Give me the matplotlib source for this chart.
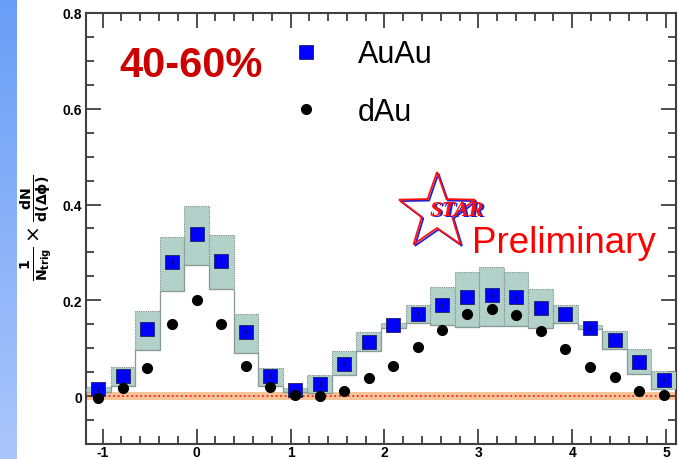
import numpy as np
import matplotlib
matplotlib.use("Agg")
import matplotlib.pyplot as plt
from matplotlib.colors import LinearSegmentedColormap
from matplotlib.patches import Polygon
from matplotlib.ticker import MultipleLocator, FormatStrFormatter

plt.rcParams["axes.unicode_minus"] = False

# bin centres in delta phi (24 bins of pi/12)
dphi = [-1.047, -0.785, -0.524, -0.262, 0.0, 0.262, 0.524, 0.785, 1.047, 1.309,
        1.571, 1.833, 2.094, 2.356, 2.618, 2.880, 3.142, 3.403, 3.665, 3.927,
        4.189, 4.451, 4.712, 4.974]
bin_width = 0.2618

# AuAu yields
auau = [0.015, 0.042, 0.140, 0.280, 0.339, 0.282, 0.134, 0.042, 0.013, 0.025,
        0.068, 0.113, 0.148, 0.172, 0.190, 0.206, 0.211, 0.206, 0.185, 0.172,
        0.143, 0.117, 0.072, 0.033]
# AuAu systematic band (upper / lower)
sys_hi = [0.019, 0.060, 0.178, 0.333, 0.396, 0.336, 0.171, 0.058, 0.016, 0.044,
          0.094, 0.133, 0.153, 0.190, 0.228, 0.259, 0.270, 0.259, 0.223, 0.190,
          0.148, 0.136, 0.099, 0.053]
sys_lo = [0.008, 0.021, 0.096, 0.219, 0.274, 0.223, 0.091, 0.021, 0.008, 0.006,
          0.044, 0.094, 0.142, 0.152, 0.148, 0.145, 0.147, 0.147, 0.143, 0.153,
          0.140, 0.098, 0.046, 0.015]
# dAu yields
dau = [-0.003, 0.017, 0.058, 0.151, 0.200, 0.151, 0.063, 0.020, 0.003, 0.000,
       0.011, 0.037, 0.063, 0.103, 0.138, 0.172, 0.181, 0.169, 0.135, 0.098,
       0.061, 0.039, 0.011, 0.002]
zero_band = 0.008

W, H = 679, 460
fig = plt.figure(figsize=(W / 100, H / 100), dpi=100)

def fx(px):
    return px / W

def fy(py):
    return 1 - py / H

# blue strip on the left
sax = fig.add_axes([0, 0, fx(17), 1])
grad = np.linspace(0, 1, 256).reshape(-1, 1)
cmap = LinearSegmentedColormap.from_list("strip", ["#6a9ef6", "#aac6fb"])
sax.imshow(grad, aspect="auto", cmap=cmap)
sax.axis("off")

ax = fig.add_axes([fx(86), fy(445), fx(676 - 86), (445 - 14) / H])
ax.set_xlim(-1.178, 5.105)
ax.set_ylim(-0.1, 0.8)

# zero line with orange band
ax.axhspan(-zero_band, zero_band, color="#f5c597", zorder=1, lw=0)
ax.axhline(0, color="#ff2020", lw=1.3, ls=(0, (1, 1.5)), zorder=2)

# systematic boxes
lo = np.array(sys_lo)
hi = np.array(sys_hi)
ax.bar(dphi, hi - lo, bottom=lo, width=bin_width, color="#b2d1c9",
       edgecolor="#7a8a86", linewidth=0.8, linestyle=(0, (1, 1)), zorder=3)
ax.step(dphi, lo, where="mid", color="#8a9a96", lw=0.9, zorder=3)

# data points
ax.errorbar(dphi, auau, yerr=0.004, fmt="none", ecolor="#000050", elinewidth=0.6,
            zorder=6)
ax.plot(dphi, auau, ls="none", marker="s", ms=10, mfc="#0000ff", mec="#202060",
        mew=0.6, zorder=5, label="AuAu")
ax.plot(dphi, dau, ls="none", marker="o", ms=7, color="black", zorder=5,
        label="dAu")

# axes styling, ROOT-like
for s in ax.spines.values():
    s.set_color("#404040")
    s.set_linewidth(1.5)
ax.xaxis.set_major_locator(MultipleLocator(1))
ax.xaxis.set_minor_locator(MultipleLocator(0.2))
ax.yaxis.set_major_locator(MultipleLocator(0.2))
ax.yaxis.set_minor_locator(MultipleLocator(0.05))
ax.yaxis.set_major_formatter(FormatStrFormatter("%g"))
ax.tick_params(which="both", direction="in", top=True, right=True,
               color="#404040", width=1.3)
ax.tick_params(which="major", length=11)
ax.tick_params(which="minor", length=6)
ax.tick_params(axis="y", pad=3)
ax.tick_params(axis="x", pad=1)
for lab in ax.get_xticklabels() + ax.get_yticklabels():
    lab.set_fontweight("bold")
    lab.set_fontsize(10)
    lab.set_family("Liberation Sans")

fig.text(fx(36), fy(228),
         r"$\mathbf{\frac{1}{N_{trig}}}\times\mathbf{\frac{dN}{d(\Delta\phi)}}$",
         rotation=90, ha="center", va="center", fontsize=14.5)

# centrality label
fig.text(fx(119), fy(66), "40-60%", color="#cc0000", fontsize=30,
         fontweight="bold", family="Liberation Sans", ha="left", va="center")

# legend
ax.legend(loc="upper left", bbox_to_anchor=(fx(275), fy(25)),
          bbox_transform=fig.transFigure, frameon=False,
          prop={"family": "Liberation Sans", "size": 22},
          handlelength=1.0, handletextpad=1.2, labelspacing=0.9,
          borderpad=0, markerscale=1.0)

# STAR logo
cx, cy, r_out, r_in = 437, 213, 40, 16
ang = np.pi / 2 + np.arange(10) * np.pi / 5
rad = np.where(np.arange(10) % 2 == 0, r_out, r_in)
sx = cx + rad * np.cos(ang)
sy = cy - rad * np.sin(ang)
fig.patches.append(Polygon(np.column_stack([fx(sx + 1.5), fy(sy + 1.5)]),
                           closed=True, fill=False, ec="#2020d0", lw=1.3,
                           transform=fig.transFigure))
fig.patches.append(Polygon(np.column_stack([fx(sx), fy(sy)]), closed=True,
                           fill=False, ec="#ff1010", lw=1.3,
                           transform=fig.transFigure))
fig.text(fx(458.5), fy(212.5), "STAR", color="#2020d0", fontsize=16,
         family="Liberation Serif", style="italic", fontweight="bold",
         ha="center", va="center")
fig.text(fx(457), fy(211), "STAR", color="#ff1010", fontsize=16,
         family="Liberation Serif", style="italic", fontweight="bold",
         ha="center", va="center")
fig.text(fx(472), fy(253), "Preliminary", color="#ff0000", fontsize=26.5,
         family="Liberation Sans", ha="left", va="baseline")

fig.savefig("out.png", dpi=100)
